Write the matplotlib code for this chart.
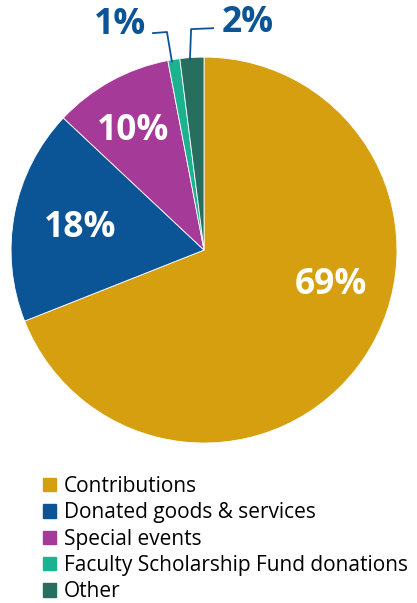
import matplotlib.pyplot as plt
import numpy as np

labels = ["Contributions", "Donated goods & services", "Special events",
          "Faculty Scholarship Fund donations", "Other"]
shares = [69, 18, 10, 1, 2]
colors = ["#D59F0F", "#0B5596", "#A53A98", "#1BB38F", "#286E5F"]

plt.rcParams['font.family'] = ['Open Sans', 'DejaVu Sans']

fig = plt.figure(figsize=(4.17, 6.03), dpi=100)
ax = fig.add_axes([0.0264, 0.2653, 0.9257, 0.640])

wedges, _ = ax.pie(shares, colors=colors, startangle=90, counterclock=False,
                   radius=1, wedgeprops=dict(edgecolor="white", linewidth=0.6))
ax.set_xlim(-1, 1)
ax.set_ylim(-1, 1)
ax.set_aspect("equal")

# big labels inside the large slices: (angle in degrees, distance from centre)
inside = {0: (-15.5, 0.68), 1: (170, 0.65), 2: (120.8, 0.72)}
for i, (a, dist) in inside.items():
    ang = np.deg2rad(a)
    ax.text(dist * np.cos(ang), dist * np.sin(ang), f"{shares[i]}%",
            ha="center", va="center", color="white", fontsize=25.5, fontweight="bold")

# small slices get labels outside with bent leader lines
outside = {
    3: dict(start=(-0.166, 0.974), elbow=(-0.192, 1.13), end=(-0.269, 1.124),
            text=(-0.30, 1.165), ha="right"),
    4: dict(start=(-0.073, 0.984), elbow=(-0.067, 1.145), end=(0.052, 1.150),
            text=(0.09, 1.175), ha="left"),
}
for i, o in outside.items():
    xs = [o["start"][0], o["elbow"][0], o["end"][0]]
    ys = [o["start"][1], o["elbow"][1], o["end"][1]]
    ax.plot(xs, ys, color="#0B5596", lw=1.3, clip_on=False, solid_capstyle="butt")
    ax.text(o["text"][0], o["text"][1], f"{shares[i]}%", ha=o["ha"], va="center",
            color="#0B5596", fontsize=25.5, fontweight="bold", clip_on=False)

handles = [plt.Rectangle((0, 0), 1, 1, color=c) for c in colors]
fig.legend(handles, labels, loc="upper left", bbox_to_anchor=(0.103, 0.211),
           frameon=False, fontsize=15, handlelength=0.62, handleheight=0.62,
           handletextpad=0.4, labelspacing=0.26, borderpad=0, borderaxespad=0)

fig.savefig("out.png", dpi=100)
